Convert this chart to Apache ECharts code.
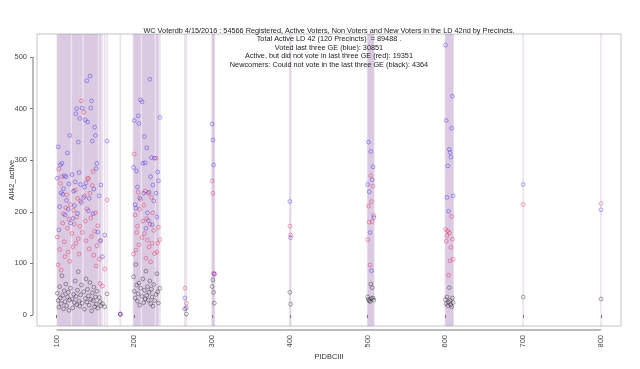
<!DOCTYPE html>
<html><head><meta charset="utf-8">
<script src="https://cdn.jsdelivr.net/npm/echarts@6/dist/echarts.min.js"></script>
<style>html,body{margin:0;padding:0;background:#fff}#c{width:640px;height:369px}</style>
</head><body><div id="c"></div>
<script>
// Precinct ids (x) and the three counts per precinct (y)
const precincts = [
 101,102,103,104,105,106,107,108,109,110,111,112,113,114,115,116,117,118,
 120,121,122,123,124,125,126,127,128,129,130,131,132,133,
 135,136,137,138,139,140,141,142,143,144,145,146,147,148,149,150,151,152,153,
 155,156,157,159,162,165,182,
 199,200,201,202,203,204,205,206,207,208,210,211,212,213,214,215,216,217,218,219,220,
 221,222,223,224,225,226,228,229,230,231,233,
 265,267,300,301,302,303,400,401,
 500,501,502,503,504,505,506,507,508,
 600,601,602,603,604,605,606,607,608,609,610,700,800];
const voted = [ // blue
 265,326,165,210,291,237,294,234,245,270,194,268,222,314,205,254,348,178,
 272,187,240,212,258,390,400,197,335,276,381,253,218,401,
 228,248,378,256,454,374,202,226,463,401,415,337,196,244,364,348,284,294,161,
 231,143,252,113,155,337,2,
 286,377,214,207,279,248,386,371,227,417,413,294,236,346,295,168,324,198,183,238,457,
 268,305,175,252,221,304,236,190,277,260,383,
 33,14,370,339,291,79,220,150,
 253,335,239,160,317,86,262,287,189,
 523,377,228,289,201,321,315,306,362,424,231,253,204];
const activeNotVoted = [ // red
 151,97,283,127,255,87,268,178,196,142,113,208,233,168,122,186,104,214,
 158,132,203,176,242,139,190,226,148,118,172,221,415,160,
 393,231,182,144,206,265,264,128,236,188,152,251,278,116,162,198,95,134,173,
 108,61,145,56,89,223,2,
 118,312,194,126,160,172,238,136,205,224,150,182,213,158,240,110,187,145,236,132,176,
 103,228,139,198,164,119,304,122,139,170,146,
 52,23,260,236,81,80,172,155,
 146,211,180,97,270,220,181,250,193,
 166,143,154,163,77,159,105,131,191,147,108,214,216];
const newcomers = [ // black
 42,28,15,55,33,22,76,38,12,47,26,60,18,35,44,9,29,52,
 31,14,40,24,66,36,20,48,84,27,17,39,58,23,
 45,11,32,70,25,50,37,19,63,30,8,43,28,54,16,35,21,46,13,
 34,26,18,22,16,41,1,
 74,46,33,98,58,27,41,62,19,52,36,70,24,48,31,85,38,55,29,44,66,
 22,50,35,17,59,28,40,80,45,23,52,
 12,2,55,68,44,23,44,21,
 35,30,28,26,60,32,53,33,29,
 30,22,35,18,25,53,28,20,16,33,24,35,31];
const xTicks = [100,200,300,400,500,600,700,800];
const yTicks = [0,100,200,300,400,500];
const titleLines = [
 'WC Voterdb 4/15/2016 : 54566 Registered, Active Voters, Non Voters and New Voters in the LD 42nd by Precincts.',
 'Total Active LD 42 (120 Precincts)  = 89488 .',
 'Voted last three GE (blue): 30851',
 'Active, but did not vote in last three GE (red): 19351',
 'Newcomers: Could not vote in the last three GE (black): 4364'];
const xName = 'PIDBCIII';
const yName = 'All42_active';

const FONT = '"Liberation Sans", Arial, sans-serif';
const chart = echarts.init(document.getElementById('c'), null, {renderer: 'canvas'});
const pairs = arr => precincts.map((p, i) => [p, arr[i]]);
const pointSeries = (name, arr, color) => ({
  name, type: 'scatter', data: pairs(arr), symbol: 'circle', symbolSize: 3.8,
  itemStyle: {color: 'transparent', borderColor: color, borderWidth: 0.8},
  silent: true, z: 3
});
const axisCommon = {
  splitLine: {show: false},
  axisLine: {show: false},
  axisTick: {show: true, length: 3, lineStyle: {color: '#777', width: 1}},
};
const option = {
  animation: false,
  grid: {left: 37, right: 19, top: 34, bottom: 43, show: true, borderColor: '#c4c4c4', borderWidth: 1, backgroundColor: 'transparent'},
  xAxis: Object.assign({}, axisCommon, {
    type: 'value', min: 74.93, max: 825.7, offset: 4,
    axisTick: Object.assign({}, axisCommon.axisTick, {customValues: xTicks}),
    axisLabel: {customValues: xTicks, rotate: 90, margin: 5, fontSize: 7.5, color: '#444', fontFamily: FONT}
  }),
  yAxis: Object.assign({}, axisCommon, {
    type: 'value', min: -21.3, max: 544.6, offset: 4,
    axisTick: Object.assign({}, axisCommon.axisTick, {customValues: yTicks}),
    axisLabel: {customValues: yTicks, margin: 6, fontSize: 7.5, color: '#444', fontFamily: FONT}
  }),
  series: [
    {
      type: 'custom', data: precincts.map(p => [p]), silent: true, z: 1, clip: true,
      renderItem: (params, api) => {
        const x = api.coord([api.value(0), 0])[0];
        const cs = params.coordSys;
        return {type: 'line', shape: {x1: x, y1: cs.y, x2: x, y2: cs.y + cs.height},
          style: {stroke: 'rgba(150,100,170,0.2)', lineWidth: 1.5}};
      }
    },
    pointSeries('newcomers', newcomers, 'rgba(0,0,0,0.55)'),
    pointSeries('active', activeNotVoted, 'rgba(225,0,50,0.55)'),
    pointSeries('voted', voted, 'rgba(20,0,230,0.55)')
  ]
};
chart.setOption(option);

const gx = 37, gyBottom = 369 - 43;
const xa0 = chart.convertToPixel({xAxisIndex: 0}, xTicks[0]);
const xa1 = chart.convertToPixel({xAxisIndex: 0}, xTicks[xTicks.length - 1]);
const ya0 = chart.convertToPixel({yAxisIndex: 0}, yTicks[0]);
const ya1 = chart.convertToPixel({yAxisIndex: 0}, yTicks[yTicks.length - 1]);
const plotCenter = (chart.convertToPixel({xAxisIndex: 0}, 74.93) + chart.convertToPixel({xAxisIndex: 0}, 825.7)) / 2;
const graphics = [
  {type: 'line', shape: {x1: xa0, y1: gyBottom + 4, x2: xa1, y2: gyBottom + 4}, style: {stroke: '#777', lineWidth: 1}, silent: true},
  {type: 'line', shape: {x1: gx - 4, y1: ya0, x2: gx - 4, y2: ya1}, style: {stroke: '#777', lineWidth: 1}, silent: true},
  {type: 'text', x: plotCenter, y: 357, style: {text: xName, fill: '#333', font: '7.5px ' + FONT, textAlign: 'center', textVerticalAlign: 'middle'}, silent: true},
  {type: 'text', x: 12, y: 180, rotation: Math.PI / 2, style: {text: yName, fill: '#333', font: '7.5px ' + FONT, textAlign: 'center', textVerticalAlign: 'middle'}, silent: true}
];
titleLines.forEach((t, i) => {
  graphics.push({type: 'text', x: plotCenter, y: 30.5 + i * 8.5, z: 10,
    style: {text: t, fill: '#222', font: '7.3px ' + FONT, textAlign: 'center', textVerticalAlign: 'middle'}, silent: true});
});
chart.setOption({graphic: graphics});
</script>
</body></html>
